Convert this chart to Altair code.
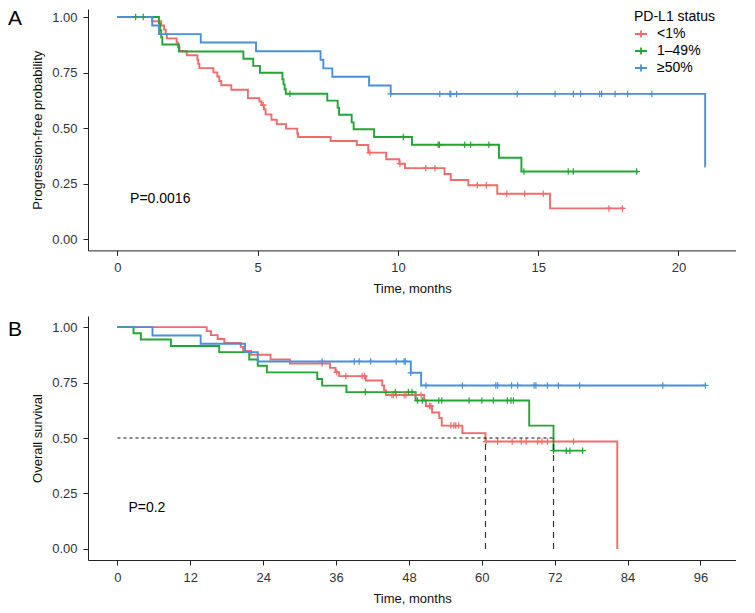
import altair as alt
import pandas as pd

FONT = "Liberation Sans"
GROUPS = ["<1%", "1–49%", "≥50%"]
COLORS = ["#F26B6B", "#22A534", "#4A90D9"]
PANEL_LABELS = ["A", "B"]
PVALUES = ["P=0.0016", "P=0.2"]
PVAL_POS_A = [0.45, 0.165]
PVAL_POS_B = [1.8, 0.165]

# ---------------- Panel A: progression-free survival ----------------
pfs_lt1_time = [0, 1.24, 1.56, 1.66, 1.72, 1.76, 2.11, 2.16, 2.21, 2.47, 2.85, 2.88, 2.92,
                3.42, 3.56, 3.63, 3.70, 4.06, 4.65, 5.06, 5.14, 5.22, 5.28, 5.49, 5.68,
                6.01, 6.41, 6.44, 7.60, 8.53, 8.94, 9.58, 10.05, 10.25, 11.66, 11.88,
                12.51, 13.54, 15.42, 18.06]
pfs_lt1_surv = [1.0, 0.981, 0.962, 0.943, 0.924, 0.904, 0.885, 0.865, 0.847, 0.828, 0.808,
                0.789, 0.770, 0.751, 0.732, 0.712, 0.693, 0.673, 0.635, 0.620, 0.604, 0.585,
                0.562, 0.538, 0.518, 0.498, 0.476, 0.460, 0.442, 0.424, 0.390, 0.360, 0.340,
                0.320, 0.294, 0.267, 0.243, 0.205, 0.139, 0.139]
pfs_lt1_cens = [5.20, 9.00, 10.07, 10.99, 11.32, 12.83, 13.15, 13.88, 14.52, 15.18, 17.52, 18.00]

pfs_mid_time = [0, 1.48, 1.52, 1.56, 1.60, 2.19, 4.49, 4.84, 5.08, 5.88, 5.92, 5.96, 6.00,
                7.48, 7.85, 7.90, 8.35, 8.42, 9.15, 10.50, 13.60, 14.40, 18.56]
pfs_mid_surv = [1.0, 0.970, 0.939, 0.909, 0.876, 0.845, 0.812, 0.780, 0.749, 0.720, 0.697,
                0.675, 0.655, 0.624, 0.592, 0.560, 0.526, 0.495, 0.460, 0.425, 0.367, 0.305,
                0.305]
pfs_mid_cens = [0.65, 0.92, 6.15, 10.19, 11.43, 11.48, 12.38, 12.59, 13.24, 14.49, 16.07,
                16.25, 18.51]

pfs_hi_time = [0, 1.24, 1.48, 2.97, 4.94, 7.24, 7.34, 7.66, 8.97, 9.74, 20.95, 20.97]
pfs_hi_surv = [1.0, 0.962, 0.923, 0.885, 0.846, 0.808, 0.769, 0.731, 0.692, 0.654, 0.327, 0.327]
pfs_hi_cens = [9.74, 11.49, 11.85, 11.88, 12.09, 14.25, 15.60, 16.25, 16.51, 17.19, 17.26,
               17.74, 18.19, 19.05]

# ---------------- Panel B: overall survival ----------------
os_lt1_time = [0, 14.7, 15.4, 16.5, 17.6, 20.3, 20.7, 22.0, 25.2, 28.4, 35.0, 35.9, 36.5,
               40.9, 43.6, 43.9, 44.2, 50.5, 50.8, 51.8, 53.0, 53.4, 56.8, 60.6, 82.3]
os_lt1_surv = [1.0, 0.982, 0.964, 0.946, 0.929, 0.911, 0.893, 0.875, 0.854, 0.836, 0.816,
               0.797, 0.779, 0.759, 0.737, 0.716, 0.694, 0.669, 0.644, 0.615, 0.590, 0.556,
               0.522, 0.484, 0.0]
os_lt1_cens = [33.7, 36.1, 37.6, 40.3, 40.7, 45.2, 45.4, 45.9, 47.2, 47.5, 49.0, 50.0, 51.4,
               51.6, 54.9, 55.4, 55.7, 56.2, 60.7, 62.6, 65.0, 66.5, 67.3, 69.2, 69.9, 70.8,
               75.1]

os_mid_time = [0, 2.64, 3.85, 8.8, 16.75, 21.7, 23.1, 24.6, 32.9, 33.7, 37.7, 49.1, 67.8,
               71.8, 76.7]
os_mid_surv = [1.0, 0.972, 0.944, 0.915, 0.887, 0.854, 0.826, 0.796, 0.766, 0.736, 0.707,
               0.669, 0.556, 0.443, 0.443]
os_mid_cens = [40.8, 45.75, 47.9, 48.5, 49.4, 50.2, 52.9, 53.4, 57.9, 60.0, 61.9, 64.2, 64.8,
               65.2, 71.8, 73.9, 74.5, 76.6]

os_hi_time = [0, 5.77, 13.7, 21.0, 23.1, 48.3, 50.0, 96.8]
os_hi_surv = [1.0, 0.962, 0.925, 0.887, 0.845, 0.794, 0.737, 0.737]
os_hi_cens = [33.7, 39.0, 39.8, 41.7, 45.9, 47.2, 47.4, 48.3, 50.8, 56.8, 62.3, 62.6, 64.9,
              65.9, 68.6, 68.9, 70.8, 72.6, 76.1, 89.8, 96.8]

median_times = [60.6, 71.8]
median_level = 0.5

A_XTICKS = [0, 5, 10, 15, 20]
B_XTICKS = [0, 12, 24, 36, 48, 60, 72, 84, 96]
YTICKS = [0, 0.25, 0.5, 0.75, 1.0]

CROSS = "M-1,0L1,0M0,-1L0,1"


def step_value(times, survs, t):
    v = survs[0]
    for ti, si in zip(times, survs):
        if ti <= t:
            v = si
    return v


def build(curves):
    rows, cens = [], []
    for g, (times, survs, ctimes) in zip(GROUPS, curves):
        for ti, si in zip(times, survs):
            rows.append({"group": g, "time": ti, "surv": si})
        for c in ctimes:
            cens.append({"group": g, "time": c, "surv": step_value(times, survs, c)})
    return pd.DataFrame(rows), pd.DataFrame(cens)


dfA, cenA = build([(pfs_lt1_time, pfs_lt1_surv, pfs_lt1_cens),
                   (pfs_mid_time, pfs_mid_surv, pfs_mid_cens),
                   (pfs_hi_time, pfs_hi_surv, pfs_hi_cens)])
dfB, cenB = build([(os_lt1_time, os_lt1_surv, os_lt1_cens),
                   (os_mid_time, os_mid_surv, os_mid_cens),
                   (os_hi_time, os_hi_surv, os_hi_cens)])

W = 648
HA = 241.4
HB = 244


def panel(df, cen, xdomain, xticks, ydomain, ytitle, letter, letter_y,
          pval, pval_pos, with_legend):
    xs = alt.Scale(domain=xdomain, nice=False, zero=False)
    ys = alt.Scale(domain=ydomain, nice=False, zero=False)
    x = alt.X("time:Q", scale=xs, axis=alt.Axis(values=xticks, title="Time, months"))
    y = alt.Y("surv:Q", scale=ys,
              axis=alt.Axis(values=YTICKS, format=".2f", title=ytitle))
    if with_legend:
        leg = alt.Legend(title="PD-L1 status", orient="none", legendX=546, legendY=1,
                         titleFontSize=14, titleFontWeight="normal", titleColor="black",
                         titleFont=FONT, labelFont=FONT, labelFontSize=14,
                         labelColor="black", symbolType="M-1,0L1,0M0,-0.6L0,0.6",
                         symbolSize=144, symbolStrokeWidth=1.8, rowPadding=1,
                         labelOffset=9, padding=0, titlePadding=3)
    else:
        leg = None
    cscale = alt.Scale(domain=GROUPS, range=COLORS)
    lines = alt.Chart(df).mark_line(interpolate="step-after", strokeWidth=1.9).encode(
        x=x, y=y, color=alt.Color("group:N", scale=cscale, legend=leg, sort=GROUPS))
    ticks = alt.Chart(cen).mark_point(shape=CROSS, filled=False, size=42, strokeWidth=1.2,
                                      opacity=1).encode(
        x="time:Q", y="surv:Q",
        color=alt.Color("group:N", scale=cscale, legend=None, sort=GROUPS))
    ptxt = alt.Chart(pd.DataFrame({"time": [pval_pos[0]], "surv": [pval_pos[1]],
                                   "label": [pval]})).mark_text(
        align="left", baseline="alphabetic", fontSize=14, font=FONT, color="black").encode(
        x="time:Q", y="surv:Q", text="label:N")
    ltxt = alt.Chart(pd.DataFrame({"label": [letter]})).mark_text(
        align="left", baseline="alphabetic", fontSize=21, font=FONT, color="black").encode(
        x=alt.value(-80), y=alt.value(letter_y), text="label:N")
    return [lines, ticks], ptxt, ltxt


layersA, ptA, ltA = panel(dfA, cenA, [-1.05, 22.05], A_XTICKS, [-0.05, 1.036],
                          "Progression-free probability", PANEL_LABELS[0], 16,
                          PVALUES[0], PVAL_POS_A, True)
chartA = alt.layer(*layersA, ptA, ltA).properties(width=W, height=HA)

layersB, ptB, ltB = panel(dfB, cenB, [-4.85, 101.85], B_XTICKS, [-0.05, 1.05],
                          "Overall survival", PANEL_LABELS[1], 19.5,
                          PVALUES[1], PVAL_POS_B, False)

med_h = pd.DataFrame({"time": [0], "time2": [max(median_times)], "surv": [median_level]})
med_v = pd.DataFrame({"time": median_times, "surv": [0.0] * len(median_times),
                      "surv2": [median_level] * len(median_times)})
hline = alt.Chart(med_h).mark_rule(color="#111111", strokeWidth=1.2, strokeDash=[3, 3]).encode(
    x="time:Q", x2="time2:Q", y="surv:Q")
vline = alt.Chart(med_v).mark_rule(color="#333333", strokeWidth=1.2, strokeDash=[6, 5]).encode(
    x="time:Q", y="surv:Q", y2="surv2:Q")

chartB = alt.layer(*layersB, hline, vline, ptB, ltB).properties(width=W, height=HB)

chart = alt.vconcat(chartA, chartB, spacing=20).resolve_legend(color="independent").properties(
    padding=0
).configure_view(stroke=None).configure_axis(
    grid=False, domainColor="#222222", tickColor="#222222", domainWidth=1, tickWidth=1,
    tickSize=5, labelFont=FONT, titleFont=FONT, labelFontSize=13, titleFontSize=13,
    titleFontWeight="normal", labelColor="#333333", titleColor="#111111",
    labelPadding=4
).configure_axisY(labelPadding=6, titlePadding=7).configure_axisX(labelPadding=6,
                                                                    titlePadding=8)

chart.save("out.html", embed_options={"renderer": "svg", "actions": False})
